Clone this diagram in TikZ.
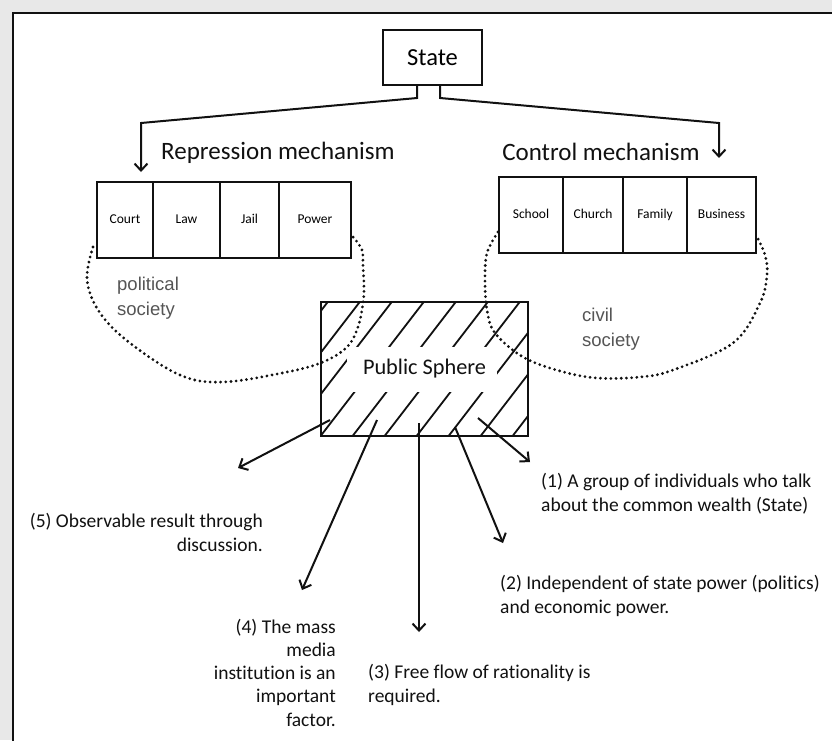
\documentclass[tikz,border=0pt]{standalone}
\usepackage{fontspec}
\setmainfont{Carlito}[Ligatures=NoCommon]
\newfontfamily\societyfont{Liberation Sans}
\usetikzlibrary{arrows.meta}
\definecolor{ink}{HTML}{111111}
\definecolor{softgray}{HTML}{555555}
\definecolor{paper}{HTML}{E8E8E8}
\begin{document}
\begin{tikzpicture}[x=1pt,y=-1pt,
  cell/.style={draw=ink,line width=2.2pt,minimum height=76pt,inner sep=0pt,
    text height=9.5pt,text depth=3pt,font=\fontsize{13.5}{16}\selectfont},
  heading/.style={font=\fontsize{25}{30}\selectfont,text=ink,inner sep=0pt},
  note/.style={font=\fontsize{19.5}{23.2}\selectfont,text=ink,inner sep=0pt},
  society/.style={font=\societyfont\fontsize{18.5}{25.5}\selectfont,text=softgray,
    align=left,inner sep=0pt},
  link/.style={draw=ink,line width=2pt,-{Straight Barb[length=7pt,width=13pt,line width=2pt]}},
  hatch/.style={draw=ink,line width=1.8pt},
  dots/.style={draw=ink,line width=3.1pt,line cap=round,dash pattern=on 0pt off 5.2pt}]
\useasboundingbox (0,0) rectangle (832,740);
\clip (0,0) rectangle (832,740);
% page background and frame
\fill[paper] (0,0) rectangle (832,740);
\fill[white] (13,13) rectangle (850,760);
\draw[ink,line width=2.6pt] (850,13) -- (13,13) -- (13,760);

% State and its two branches
\node[draw=ink,line width=2.2pt,minimum width=99pt,minimum height=55pt,inner sep=0pt,
  font=\fontsize{24.5}{28}\selectfont] (state) at (432.5,57.5) {State};
\coordinate (lStub) at (417,98);
\coordinate (lBend) at (141,123);
\coordinate (lTip) at (141,172);
\coordinate (rStub) at (440,98);
\coordinate (rBend) at (719,123);
\coordinate (rTip) at (719,158);
\draw[link] (state.south -| lStub) -- (lStub) -- (lBend) -- (lTip);
\draw[link] (state.south -| rStub) -- (rStub) -- (rBend) -- (rTip);

\node[heading] (repr) at (278,153) {Repression mechanism};
\node[heading] (ctrl) at (601,152) {Control mechanism};

% political society institutions
\node[cell,minimum width=56pt] (court) at (125,220) {Court};
\node[cell,minimum width=67pt] (law) at (186.5,220) {Law};
\node[cell,minimum width=59pt] (jail) at (249.5,220) {Jail};
\node[cell,minimum width=72pt] (power) at (315,220) {Power};

% civil society institutions
\node[cell,minimum width=64pt] (school) at (531,215) {School};
\node[cell,minimum width=60pt] (church) at (593,215) {Church};
\node[cell,minimum width=64pt] (family) at (655,215) {Family};
\node[cell,minimum width=69pt] (business) at (721.5,215) {Business};

\node[society,anchor=west] (polsoc) at (117,298) {political\\society};
\node[society,anchor=west] (civsoc) at (582,329) {civil\\society};

% public sphere: hatched box with a clear band for its title
\begin{scope}
  \clip (321,302) rectangle (528,436);
  \foreach \c in {560,592,...,880}
    \draw[hatch] ({\c-232.3},302) -- ({\c-335.4},436);
\end{scope}
\fill[white] (347,347) rectangle (497,392);
\node[draw=ink,line width=2.2pt,minimum width=207pt,minimum height=134pt,inner sep=0pt,
  font=\fontsize{22.3}{26}\selectfont,text=ink] (ps) at (424.5,369) {Public Sphere};

% dotted outlines of the two societies
\draw[dots] plot[smooth,tension=0.6] coordinates {(93,247) (87,280) (100,313) (130,343)
  (180,375) (223,382) (287,372) (323,362) (347,347) (358,327) (363,303) (364,287)
  (363,267) (362,250) (353,237)};
\draw[dots] plot[smooth,tension=0.6] coordinates {(498,232) (487,253) (485,280)
  (487,310) (495,333) (523,357) (560,371) (597,378) (640,377) (673,370) (733,343)
  (760,303) (767,275) (765,255) (757,237)};

% arrows leaving the public sphere
\coordinate (s1) at (478,418); \coordinate (t1) at (530,462);
\coordinate (s2) at (455,427); \coordinate (t2) at (503,543);
\coordinate (s3) at (419,423); \coordinate (t3) at (419,632);
\coordinate (s4) at (377,420); \coordinate (t4) at (302,590);
\coordinate (s5) at (330,420); \coordinate (t5) at (238,468);
\foreach \i in {1,...,5} \draw[link] (s\i) -- (t\i);

% characteristics (anchored at the baseline of their last line)
\node[note,anchor=base west,align=left] (c1) at (541,511)
  {(1) A group of individuals who talk\\about the common wealth (State)};
\node[note,anchor=base west,align=left] (c2) at (500,613)
  {(2) Independent of state power (politics)\\and economic power.};
\node[note,anchor=base west,align=left] (c3) at (368,702)
  {(3) Free flow of rationality is\\required.};
\node[note,anchor=base east,align=right] (c4) at (336,726)
  {(4) The mass\\media\\institution is an\\important\\factor.};
\node[note,anchor=base east,align=right] (c5) at (263,551)
  {(5) Observable result through\\discussion.};
\end{tikzpicture}
\end{document}
